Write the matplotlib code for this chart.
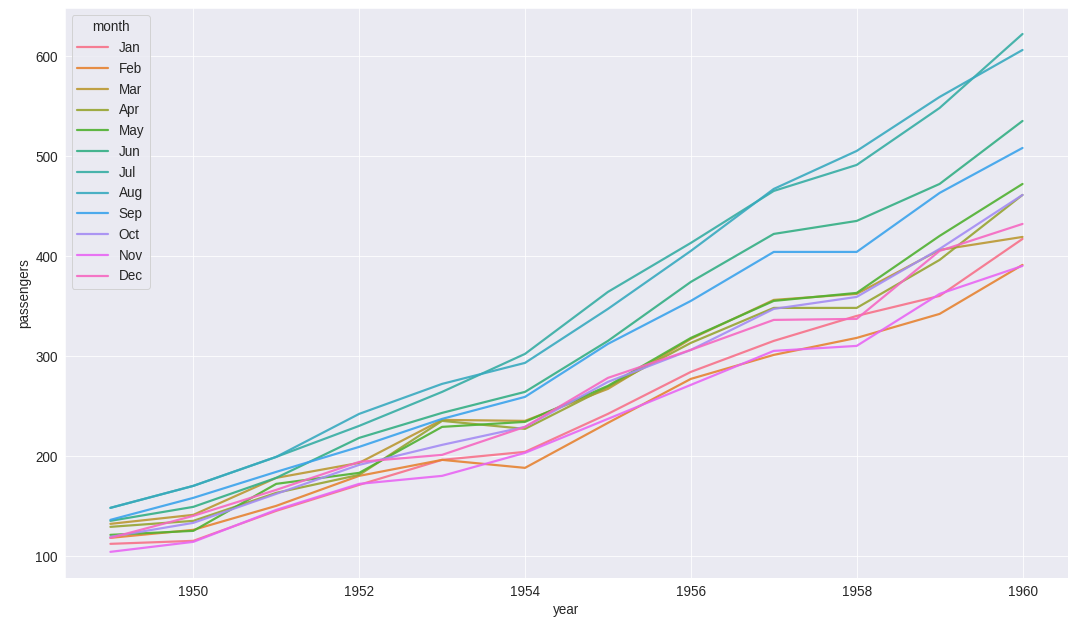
import matplotlib
matplotlib.use("Agg")
import matplotlib.pyplot as plt
import seaborn as sns
import pandas as pd

years = list(range(1949, 1961))
months = ["Jan", "Feb", "Mar", "Apr", "May", "Jun",
          "Jul", "Aug", "Sep", "Oct", "Nov", "Dec"]

jan = [112, 115, 145, 171, 196, 204, 242, 284, 315, 340, 360, 417]
feb = [118, 126, 150, 180, 196, 188, 233, 277, 301, 318, 342, 391]
mar = [132, 141, 178, 193, 236, 235, 267, 317, 356, 362, 406, 419]
apr = [129, 135, 163, 181, 235, 227, 269, 313, 348, 348, 396, 461]
may = [121, 125, 172, 183, 229, 234, 270, 318, 355, 363, 420, 472]
jun = [135, 149, 178, 218, 243, 264, 315, 374, 422, 435, 472, 535]
jul = [148, 170, 199, 230, 264, 302, 364, 413, 465, 491, 548, 622]
aug = [148, 170, 199, 242, 272, 293, 347, 405, 467, 505, 559, 606]
sep = [136, 158, 184, 209, 237, 259, 312, 355, 404, 404, 463, 508]
oct_ = [119, 133, 162, 191, 211, 229, 274, 306, 347, 359, 407, 461]
nov = [104, 114, 146, 172, 180, 203, 237, 271, 305, 310, 362, 390]
dec = [118, 140, 166, 194, 201, 229, 278, 306, 336, 337, 405, 432]

series = [jan, feb, mar, apr, may, jun, jul, aug, sep, oct_, nov, dec]

rows = []
for m, vals in zip(months, series):
    for y, v in zip(years, vals):
        rows.append({"year": y, "month": m, "passengers": v})
df = pd.DataFrame(rows)
df["month"] = pd.Categorical(df["month"], categories=months, ordered=True)

sns.set_style("darkgrid")
plt.rcParams["font.family"] = ["Liberation Sans", "DejaVu Sans"]
plt.rcParams["font.size"] = 13.5
plt.rcParams["xtick.labelsize"] = 13.5
plt.rcParams["ytick.labelsize"] = 13.5
plt.rcParams["axes.labelsize"] = 13.5
plt.rcParams["legend.fontsize"] = 13.5
plt.rcParams["legend.title_fontsize"] = 13.5
plt.rcParams["text.color"] = "#262626"

fig, ax = plt.subplots(figsize=(15, 8.85), dpi=72)
sns.lineplot(data=df, x="year", y="passengers", hue="month",
             palette=sns.color_palette("husl", 12), ax=ax,
             linewidth=2.2, alpha=0.9)
ax.legend(title="month", loc="upper left", handlelength=2.3)
plt.subplots_adjust(left=0.06, right=0.989, top=0.987, bottom=0.093)
fig.savefig("out.png", dpi=72)
